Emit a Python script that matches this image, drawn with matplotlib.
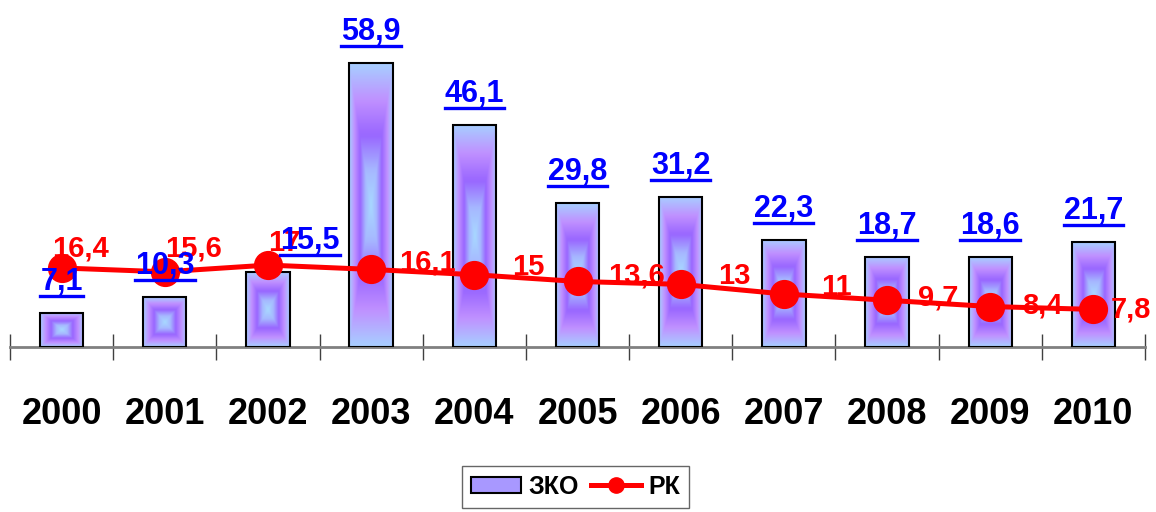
import numpy as np
import matplotlib.pyplot as plt
from matplotlib.colors import LinearSegmentedColormap
from matplotlib.lines import Line2D
from matplotlib.patches import Patch
from matplotlib.transforms import IdentityTransform

years = ['2000', '2001', '2002', '2003', '2004', '2005', '2006', '2007', '2008', '2009', '2010']
zko = [7.1, 10.3, 15.5, 58.9, 46.1, 29.8, 31.2, 22.3, 18.7, 18.6, 21.7]
rk = [16.4, 15.6, 17, 16.1, 15, 13.6, 13, 11, 9.7, 8.4, 7.8]

def fmt(v):
    s = ('%g' % v)
    return s.replace('.', ',')

plt.rcParams['font.family'] = ['Liberation Sans', 'DejaVu Sans']
plt.rcParams['font.weight'] = 'bold'

fig = plt.figure(figsize=(11.56, 5.12), dpi=100)
ax = fig.add_axes([10 / 1156, (512 - 347) / 512, 1135 / 1156, 347 / 512])
x = np.arange(len(years))

# rectangular gradient used for the bars
grad = LinearSegmentedColormap.from_list('zko', [
    (0.0, '#a8d8ff'), (0.25, '#a6b8ff'), (0.5, '#9966ff'),
    (0.75, '#c090ff'), (1.0, '#a8ccff')])
u = np.linspace(-1, 1, 60)
U, V = np.meshgrid(u, u)
T = np.maximum(np.abs(U), np.abs(V))

bars = ax.bar(x, zko, width=0.42, facecolor='none', edgecolor='black', linewidth=1.5, zorder=3)
for b in bars:
    x0, w, h = b.get_x(), b.get_width(), b.get_height()
    im = ax.imshow(T, cmap=grad, vmin=0, vmax=1, extent=(x0, x0 + w, 0, h),
                   aspect='auto', interpolation='bilinear', zorder=2)
    im.set_clip_path(b)

ax.plot(x, rk, color='#ff0000', linewidth=3.6, marker='o', markersize=20, zorder=4)

ax.set_xlim(-0.5, len(years) - 0.5)
ax.set_ylim(0, 72)
for s in ['top', 'left', 'right']:
    ax.spines[s].set_visible(False)
ax.spines['bottom'].set_color('#808080')
ax.spines['bottom'].set_linewidth(2)
ax.set_yticks([])
ax.set_xticks(x)
ax.set_xticklabels(years, fontsize=26, fontweight='bold')
ax.tick_params(axis='x', which='major', length=0, pad=36)
ax.set_xticks(np.arange(-0.5, len(years)), minor=True)
ax.tick_params(axis='x', which='minor', direction='inout', length=19, width=1, color='#404040')

# bar labels (blue, underlined)
blue_texts = []
for i, v in enumerate(zko):
    dx = 42 if i == 2 else 0
    t = ax.annotate(fmt(v), (x[i], v), xytext=(dx, 23), textcoords='offset pixels',
                    ha='center', va='baseline', color='#0000ff', fontsize=22,
                    fontweight='bold', zorder=6)
    blue_texts.append(t)

# line labels (red)
red_off = [(19, 19), (29, 23), (16, 22), (56, 7), (54, 8), (59, 6),
           (54, 8), (53, 7), (51, 3), (52, 1), (38, 0)]
for i, v in enumerate(rk):
    ax.annotate(fmt(v), (x[i], v), xytext=red_off[i], textcoords='offset pixels',
                ha='center', va='center', color='#ff0000', fontsize=21,
                fontweight='bold', zorder=5, annotation_clip=False)

handles = [Patch(facecolor='#a898ff', edgecolor='black', linewidth=1.5),
           Line2D([], [], color='#ff0000', linewidth=3.6, marker='o', markersize=11)]
fig.legend(handles, ['ЗКО', 'РК'], loc='upper center', bbox_to_anchor=(0.498, 1 - 466 / 512),
           ncol=2, frameon=True, fancybox=False, edgecolor='#404040', fontsize=18,
           handlelength=2.0, handleheight=0.6, handletextpad=0.3, columnspacing=0.5,
           borderpad=0.35, borderaxespad=0)

fig.canvas.draw()
r = fig.canvas.get_renderer()
for t in blue_texts:
    bb = t.get_window_extent(r)
    fig.add_artist(Line2D([bb.x0, bb.x1], [bb.y0 + 1, bb.y0 + 1], transform=IdentityTransform(),
                          color='#0000ff', linewidth=2.4, zorder=6))

fig.savefig('out.png', dpi=100)
